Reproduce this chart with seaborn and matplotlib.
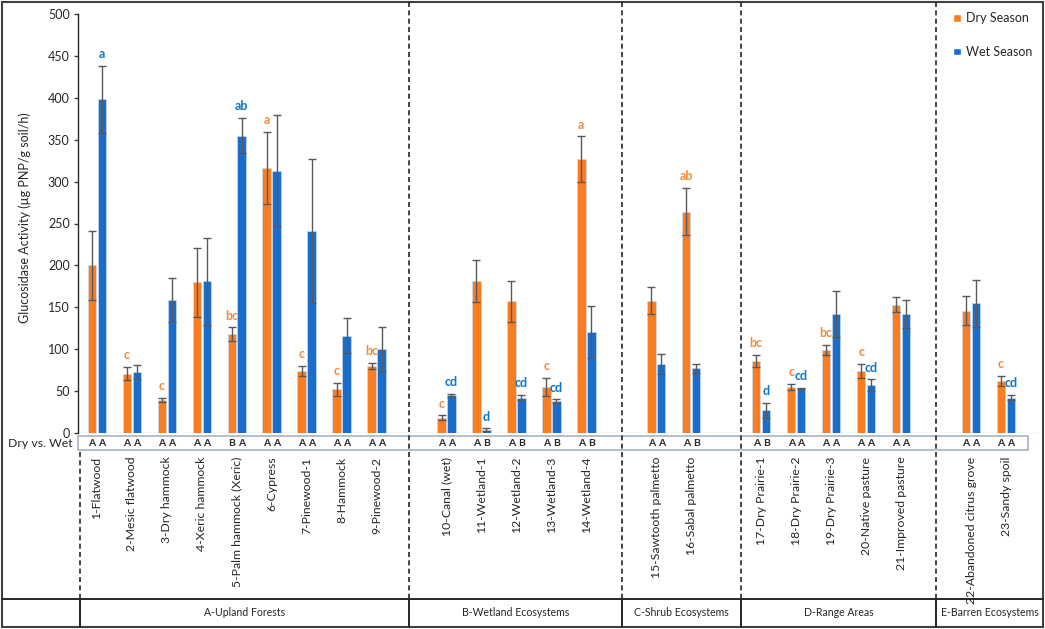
import pandas as pd
import numpy as np
import matplotlib
matplotlib.use("Agg")
import matplotlib.pyplot as plt
import matplotlib.transforms as mtrans
from matplotlib.patches import Rectangle, Patch
import seaborn as sb

# ---- data ----
categories = ["1-Flatwood", "2-Mesic flatwood", "3-Dry hammock", "4-Xeric hammock",
              "5-Palm hammock (Xeric)", "6-Cypress", "7-Pinewood-1", "8-Hammock", "9-Pinewood-2",
              "10-Canal (wet)", "11-Wetland-1", "12-Wetland-2", "13-Wetland-3", "14-Wetland-4",
              "15-Sawtooth palmetto", "16-Sabal palmetto",
              "17-Dry Prairie-1", "18-Dry Prairie-2", "19-Dry Prairie-3", "20-Native pasture",
              "21-Improved pasture",
              "22-Abandoned citrus grove", "23-Sandy spoil"]
group_names = ["A-Upland Forests", "B-Wetland Ecosystems", "C-Shrub Ecosystems",
               "D-Range Areas", "E-Barren Ecosystems"]
group_sizes = [9, 5, 2, 5, 2]

dry_mean = [200, 71, 39, 180, 118, 316, 74, 52, 80, 18, 181, 157, 55, 327, 158, 264,
            86, 55, 99, 74, 153, 146, 62]
dry_err = [41, 8, 2.5, 41, 8, 43, 6, 8, 4, 3, 25, 24, 10.5, 27, 16, 28,
           7, 4, 6, 8, 9, 17, 6.5]
wet_mean = [398, 73, 159, 181, 355, 313, 241, 116, 100, 45, 4, 42, 38, 120, 82, 77,
            27, 53, 142, 57, 142, 155, 42]
wet_err = [40, 8.5, 26, 52, 21, 66, 86, 21, 26, 1.5, 1.5, 3, 2, 31, 12, 5.5,
           9, 1, 28, 7, 17, 28, 3]

dry_letters = ["", "c", "c", "", "bc", "a", "c", "c", "bc", "c", "", "", "c", "a", "", "ab",
               "bc", "c", "bc", "c", "", "", "c"]
wet_letters = ["a", "", "", "", "ab", "", "", "", "", "cd", "d", "cd", "cd", "", "", "",
               "d", "cd", "", "cd", "", "", "cd"]
test_dry = ["A", "A", "A", "A", "B", "A", "A", "A", "A", "A", "A", "A", "A", "A", "A", "A",
            "A", "A", "A", "A", "A", "A", "A"]
test_wet = ["A", "A", "A", "A", "A", "A", "A", "A", "A", "A", "B", "B", "B", "B", "A", "B",
            "B", "A", "A", "A", "A", "A", "A"]

seasons = ["Dry Season", "Wet Season"]
orange = "#FB7D22"
blue = "#1A6DCB"
txt_orange = "#F7893A"
txt_blue = "#0B78CC"
dark = "#262626"

# category order with one empty slot between groups
order = []
k = 0
for gi, n in enumerate(group_sizes):
    order += categories[k:k + n]
    k += n
    if gi < len(group_sizes) - 1:
        order.append(" " * (gi + 1))
slot = {c: order.index(c) for c in categories}

df = pd.DataFrame({
    "category": categories * 2,
    "season": [seasons[0]] * len(categories) + [seasons[1]] * len(categories),
    "value": dry_mean + wet_mean,
})

sb.set_theme(style="white")
plt.rcParams["font.family"] = ["Lato", "DejaVu Sans"]

W, H = 1045, 629
fig = plt.figure(figsize=(W / 100, H / 100), dpi=100)

# overlay in pixel coordinates for frame, table and dividers
over = fig.add_axes([0, 0, 1, 1])
over.set_xlim(0, W)
over.set_ylim(H, 0)
over.axis("off")

ax_l, ax_r, ax_t, ax_b = 78, 1040, 14, 433
ax = fig.add_axes([ax_l / W, 1 - ax_b / H, (ax_r - ax_l) / W, (ax_b - ax_t) / H])
ax.set_facecolor("none")

sb.barplot(data=df, x="category", y="value", hue="season", order=order, hue_order=seasons,
           palette=[orange, blue], width=0.57, gap=0.16, errorbar=None, legend=False,
           saturation=1, edgecolor="#C9DCF0", linewidth=0.5, ax=ax)

step = 34.97
ax.set_xlim(-(96.8 - ax_l) / step, (ax_r - 96.8) / step)
ax.set_ylim(0, 500)
ax.set_yticks(np.arange(0, 501, 50))
ax.axhline(0, color="#D9D9D9", lw=1, zorder=0)

off = 0.1425
xd = np.array([slot[c] for c in categories]) - off
xw = np.array([slot[c] for c in categories]) + off
ax.errorbar(xd, dry_mean, yerr=dry_err, fmt="none", ecolor="#595959", elinewidth=1,
            capsize=2.6, capthick=1)
ax.errorbar(xw, wet_mean, yerr=wet_err, fmt="none", ecolor="#595959", elinewidth=1,
            capsize=2.6, capthick=1)

for i in range(len(categories)):
    if dry_letters[i]:
        ax.annotate(dry_letters[i], (xd[i], dry_mean[i] + dry_err[i]), xytext=(0, 8.5),
                    textcoords="offset points", ha="center", va="center",
                    color=txt_orange, fontsize=9, fontweight="bold")
    if wet_letters[i]:
        ax.annotate(wet_letters[i], (xw[i], wet_mean[i] + wet_err[i]), xytext=(0, 8.5),
                    textcoords="offset points", ha="center", va="center",
                    color=txt_blue, fontsize=9, fontweight="bold")

ax.set_xticks([slot[c] for c in categories])
ax.set_xticklabels(categories, rotation=90, fontsize=8.8, color=dark)
ax.tick_params(axis="x", length=0, pad=17)
ax.tick_params(axis="y", direction="out", length=3, width=1, color="#404040",
               labelsize=9, labelcolor=dark, pad=3, left=True)
ax.set_xlabel("")
ax.set_ylabel("Glucosidase Activity (µg PNP/g soil/h)", fontsize=9, color=dark)
ax.yaxis.set_label_coords(-0.049, 0.515)
for s in ["top", "right", "bottom"]:
    ax.spines[s].set_visible(False)
ax.spines["left"].set_color("#262626")
ax.spines["left"].set_linewidth(1)

handles = [Patch(facecolor=orange), Patch(facecolor=blue)]
ax.legend(handles, seasons, loc="upper left", bbox_to_anchor=(953 / W, 1 - 12 / H),
          bbox_transform=fig.transFigure, frameon=False, fontsize=9, handlelength=0.6,
          handleheight=0.6, handletextpad=0.4, labelspacing=1.75, borderpad=0,
          borderaxespad=0)

# x in data slots, y in pixels
blend = mtrans.blended_transform_factory(ax.transData, over.transData)

# Dry vs. Wet row
over.add_patch(Rectangle((ax_l, 436), 1028 - ax_l, 14, fill=False, edgecolor="#A7B3C4",
                         lw=1.2))
over.text(73, 443.5, "Dry vs. Wet", ha="right", va="center", fontsize=8.8, color=dark)
for i in range(len(categories)):
    over.text(xd[i], 443.5, test_dry[i], transform=blend, ha="center", va="center",
              fontsize=7.5, fontweight="bold", color=dark)
    over.text(xw[i], 443.5, test_wet[i], transform=blend, ha="center", va="center",
              fontsize=7.5, fontweight="bold", color=dark)

# group dividers and bottom table
dividers = [8.93, 15.02, 18.42, 24.0]
left_slot = (80 - 96.8) / step
for d in dividers:
    over.plot([d, d], [2, 599], transform=blend, color=dark, lw=1.2,
              linestyle=(0, (3, 2)), clip_on=False)
over.plot([left_slot, left_slot], [452, 599], transform=blend, color=dark, lw=1.2,
          linestyle=(0, (3, 2)))
edges = [left_slot] + dividers
for d in edges:
    over.plot([d, d], [599, 627], transform=blend, color=dark, lw=1.4)
over.plot([2, 1043], [599, 599], color=dark, lw=1.4)
right_slot = (1043 - 96.8) / step
cell_edges = edges + [right_slot]
for gi, g in enumerate(group_names):
    over.text((cell_edges[gi] + cell_edges[gi + 1]) / 2, 613, g, transform=blend,
              ha="center", va="center", fontsize=7.6, color=dark)

over.add_patch(Rectangle((2, 2), 1041, 625, fill=False, edgecolor="#404040", lw=1.5))

fig.savefig("out.png", dpi=100)
